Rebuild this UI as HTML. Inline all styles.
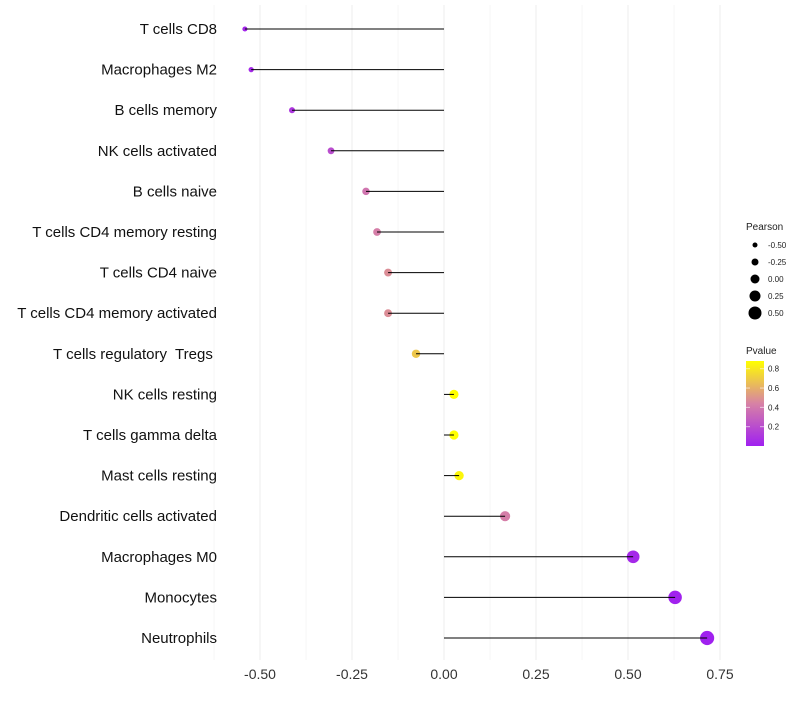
<!DOCTYPE html>
<html><head><meta charset="utf-8"><style>
body{margin:0;background:#fff;font-family:"Liberation Sans",sans-serif}
text{white-space:pre}
</style></head><body>
<svg id="c" width="800" height="700" xmlns="http://www.w3.org/2000/svg"></svg>
<script>
const categories=["T cells CD8","Macrophages M2","B cells memory","NK cells activated","B cells naive","T cells CD4 memory resting","T cells CD4 naive","T cells CD4 memory activated","T cells regulatory  Tregs ","NK cells resting","T cells gamma delta","Mast cells resting","Dendritic cells activated","Macrophages M0","Monocytes","Neutrophils"];
const pearson=[-0.541,-0.524,-0.413,-0.307,-0.212,-0.182,-0.152,-0.152,-0.076,0.027,0.027,0.041,0.166,0.514,0.628,0.715];
const pvalues=[0.03,0.04,0.1,0.2,0.38,0.42,0.48,0.48,0.68,0.9,0.9,0.85,0.42,0.04,0.01,0.003];
const xTicks=[-0.5,-0.25,0,0.25,0.5,0.75];
const xTickLabels=["-0.50","-0.25","0.00","0.25","0.50","0.75"];
const sizeLegend=[-0.5,-0.25,0,0.25,0.5];
const sizeLegendLabels=["-0.50","-0.25","0.00","0.25","0.50"];
const pTicks=[0.2,0.4,0.6,0.8];
const NS="http://www.w3.org/2000/svg";
const svg=document.getElementById('c');
const x=v=>444+v*368;
const y=i=>29+i*40.6;
const r=v=>4.5+v*3.6;
const rl=v=>4.5+v*4;
function col(p){const t=Math.min(1,Math.max(0,p/0.88));
 const a=[160,32,240],m=[215,130,165],b=[255,255,0];let c;
 if(t<0.5){const s=t/0.5;c=a.map((v,k)=>v+(m[k]-v)*s);}else{const s=(t-0.5)/0.5;c=m.map((v,k)=>v+(b[k]-v)*s);}
 return `rgb(${c.map(Math.round).join(',')})`;}
function el(tag,at,parent){const e=document.createElementNS(NS,tag);for(const k in at)e.setAttribute(k,at[k]);(parent||svg).appendChild(e);return e;}
for(let v=-0.625;v<=0.76;v+=0.125){const g=el('line',{x1:x(v),x2:x(v),y1:5,y2:660,stroke:'#eeeeee','stroke-width':Math.abs((v*4)%1)<1e-6?1:0.5});

}
xTicks.forEach((v,i)=>{const t=el('text',{x:x(v),y:679,'text-anchor':'middle','font-size':14,fill:'#333'});t.textContent=xTickLabels[i];

});
categories.forEach((c,i)=>{
 const t=el('text',{x:217,y:y(i)+5,'text-anchor':'end','font-size':15,fill:'#111'});t.textContent=c;
 
 
 const d=el('circle',{cx:x(pearson[i]),cy:y(i),r:r(pearson[i]),fill:col(pvalues[i])});
 
 
 const l=el('line',{x1:x(0),x2:x(pearson[i]),y1:y(i),y2:y(i),stroke:'#000','stroke-width':1});
 
 
});
let t=el('text',{x:746,y:230,'font-size':10,fill:'#222'});t.textContent="Pearson";


sizeLegend.forEach((v,i)=>{const yy=245+i*17;
 const c=el('circle',{cx:755,cy:yy,r:rl(v),fill:'#000'});
 
 
 const tt=el('text',{x:768,y:yy+3,'font-size':8,fill:'#222'});tt.textContent=sizeLegendLabels[i];
 
 });
t=el('text',{x:746,y:354,'font-size':10,fill:'#222'});t.textContent="Pvalue";


const defs=el('defs',{});const lg=el('linearGradient',{id:'g',x1:0,y1:1,x2:0,y2:0},defs);
for(let k=0;k<=10;k++)el('stop',{offset:k/10,'stop-color':col(k/10*0.88)},lg);
const bar=el('rect',{x:746,y:361,width:18,height:85,fill:'url(#g)'});


pTicks.forEach(p=>{const yy=446-p/0.88*85;
 el('line',{x1:746,x2:750,y1:yy,y2:yy,stroke:'#fff','stroke-opacity':0.6});
 el('line',{x1:760,x2:764,y1:yy,y2:yy,stroke:'#fff','stroke-opacity':0.6});
 const tt=el('text',{x:768,y:yy+3,'font-size':8,fill:'#222'});tt.textContent=p.toFixed(1);
 
 });
</script>
</body></html>
